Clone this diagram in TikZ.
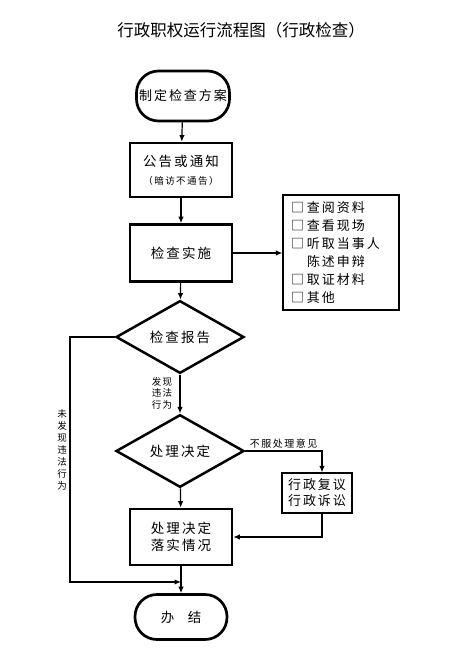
\documentclass[tikz,border=0pt]{standalone}
\usepackage{fontspec}
\newfontfamily\cjk{Noto Sans CJK SC}[LetterSpace=15]
\newfontfamily\cjktitle{Noto Sans CJK SC}
\usetikzlibrary{shapes.geometric,arrows.meta,calc}
\newcommand\cbx{\makebox[16pt][l]{□}}
\begin{document}
\begin{tikzpicture}[x=1pt,y=-1pt,
  every node/.style={font=\cjk\fontsize{13.5}{17}\selectfont, align=center},
  term/.style={draw, line width=2.7pt, rounded corners=22pt, inner sep=0pt},
  proc/.style={draw, line width=2.7pt, minimum width=102pt, inner sep=0pt},
  dec/.style={diamond, draw, line width=2.5pt, minimum width=128pt, inner sep=0pt},
  thinbox/.style={draw, line width=1.3pt, inner sep=0pt},
  small/.style={font=\cjk\fontsize{9.5}{11.5}\selectfont},
  conn/.style={line width=1.2pt},
  arr/.style={conn, -{Latex[length=6.5pt,width=5.5pt]}}]
\useasboundingbox (0,0) rectangle (476,661);
\fill[white] (0,0) rectangle (476,661);

\node[font=\cjktitle\fontsize{16.5}{18}\selectfont] (title) at (241,30) {行政职权运行流程图（行政检查）};

\node[term, minimum width=93pt, minimum height=50pt, font=\cjk\fontsize{13}{17}\selectfont] (start) at (183,96) {制定检查方案};
\node[proc, minimum height=54pt, font=\cjk\fontsize{13.5}{18}\selectfont] (notice) at (181,170)
  {公告或通知\\{\fontsize{9.5}{12}\selectfont（暗访不通告）}};
\node[proc, minimum height=57pt] (exec) at (181,253) {检查实施};
\node[thinbox, text width=100pt, inner xsep=8pt, minimum height=115pt, align=left,
      font=\cjk\fontsize{13}{18}\selectfont] (list) at (341,252.5)
  {\cbx 查阅资料\\ \cbx 查看现场\\ \cbx 听取当事人\\ \hspace*{16pt}陈述申辩\\ \cbx 取证材料\\ \cbx 其他};

\node[dec, minimum height=61pt] (d1) at (180,337) {检查报告};
\node[small] (found) at (162,393) {发现\\违法\\行为};
\node[dec, minimum height=66pt] (d2) at (180,451) {处理决定};
\node[thinbox, minimum width=70pt, minimum height=40pt, font=\cjk\fontsize{13}{16}\selectfont] (review) at (317,493) {行政复议\\行政诉讼};
\node[proc, minimum height=56pt] (impl) at (181,537) {处理决定\\落实情况};
\node[term, minimum width=92pt, minimum height=45pt] (end) at (181,617) {办\hspace{1em}结};
\node[small, font=\cjk\fontsize{9.5}{12}\selectfont] (notfound) at (62,450) {未\\发\\现\\违\\法\\行\\为};

\coordinate (k) at (322,0);
\coordinate (lx) at (70,0);
\coordinate (ly) at (181,582);

\draw[arr] (start) -- (notice);
\draw[arr] (notice) -- (exec);
\draw[arr] (exec.east) -- (exec.east -| list.west);
\draw[arr] (exec) -- (d1);
\draw[arr] (d1) -- (d2);
\draw[arr] (d2) -- (impl);
\draw[arr] (impl) -- (end);
\draw[arr] (d2.east) -- node[small, above, inner sep=2pt, font=\cjk\fontsize{10}{12}\selectfont] (disagree) {不服处理意见} (d2.east -| k) -- (k |- review.north);
\draw[arr] (k |- review.south) -- (k |- impl.east) -- (impl.east);
\draw[arr] (d1.west) -- (d1.west -| lx) -- (lx |- ly) -- (ly);
\end{tikzpicture}
\end{document}
